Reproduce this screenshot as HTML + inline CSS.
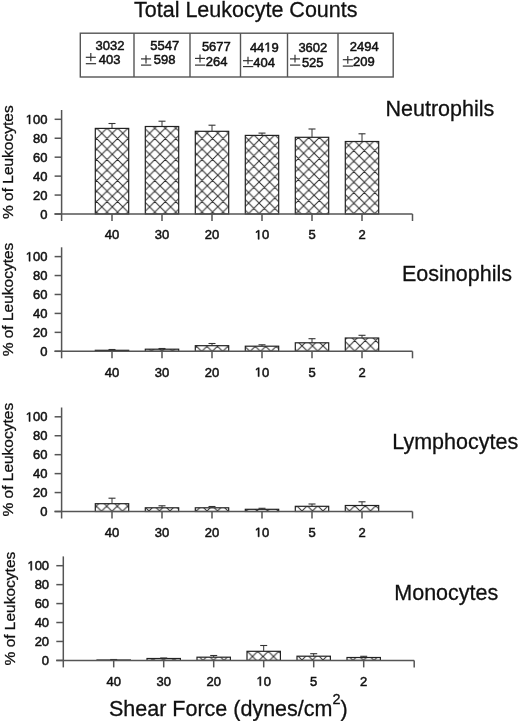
<!DOCTYPE html>
<html><head><meta charset="utf-8"><title>Leukocyte Counts</title>
<style>html,body{margin:0;padding:0;background:#fff;width:520px;height:721px;overflow:hidden;font-family:"Liberation Sans", sans-serif;}</style>
</head><body>
<svg width="520" height="721" viewBox="0 0 520 721" style="position:absolute;left:0;top:0;will-change:transform" font-family='"Liberation Sans", sans-serif' fill="#111">
<defs><pattern id="h0_0" patternUnits="userSpaceOnUse" x="101.80" y="133.30" width="10.5" height="10.5"><rect width="10.5" height="10.5" fill="#fff"/><path d="M0,0 L10.5,10.5 M0,10.5 L10.5,0 M-1,1 L1,-1 M9.5,11.5 L11.5,9.5 M-1,9.5 L1,11.5 M9.5,-1 L11.5,1" stroke="#2a2a2a" stroke-width="1.0" fill="none"/></pattern><pattern id="h0_1" patternUnits="userSpaceOnUse" x="149.60" y="133.30" width="10.5" height="10.5"><rect width="10.5" height="10.5" fill="#fff"/><path d="M0,0 L10.5,10.5 M0,10.5 L10.5,0 M-1,1 L1,-1 M9.5,11.5 L11.5,9.5 M-1,9.5 L1,11.5 M9.5,-1 L11.5,1" stroke="#2a2a2a" stroke-width="1.0" fill="none"/></pattern><pattern id="h0_2" patternUnits="userSpaceOnUse" x="196.80" y="133.20" width="10.5" height="10.5"><rect width="10.5" height="10.5" fill="#fff"/><path d="M0,0 L10.5,10.5 M0,10.5 L10.5,0 M-1,1 L1,-1 M9.5,11.5 L11.5,9.5 M-1,9.5 L1,11.5 M9.5,-1 L11.5,1" stroke="#2a2a2a" stroke-width="1.0" fill="none"/></pattern><pattern id="h0_3" patternUnits="userSpaceOnUse" x="248.60" y="140.05" width="10.5" height="10.5"><rect width="10.5" height="10.5" fill="#fff"/><path d="M0,0 L10.5,10.5 M0,10.5 L10.5,0 M-1,1 L1,-1 M9.5,11.5 L11.5,9.5 M-1,9.5 L1,11.5 M9.5,-1 L11.5,1" stroke="#2a2a2a" stroke-width="1.0" fill="none"/></pattern><pattern id="h0_4" patternUnits="userSpaceOnUse" x="303.60" y="142.76" width="10.5" height="10.5"><rect width="10.5" height="10.5" fill="#fff"/><path d="M0,0 L10.5,10.5 M0,10.5 L10.5,0 M-1,1 L1,-1 M9.5,11.5 L11.5,9.5 M-1,9.5 L1,11.5 M9.5,-1 L11.5,1" stroke="#2a2a2a" stroke-width="1.0" fill="none"/></pattern><pattern id="h0_5" patternUnits="userSpaceOnUse" x="348.60" y="145.34" width="10.5" height="10.5"><rect width="10.5" height="10.5" fill="#fff"/><path d="M0,0 L10.5,10.5 M0,10.5 L10.5,0 M-1,1 L1,-1 M9.5,11.5 L11.5,9.5 M-1,9.5 L1,11.5 M9.5,-1 L11.5,1" stroke="#2a2a2a" stroke-width="1.0" fill="none"/></pattern><pattern id="h1_0" patternUnits="userSpaceOnUse" x="112.00" y="351.30" width="10.5" height="10.5"><rect width="10.5" height="10.5" fill="#fff"/><path d="M0,0 L10.5,10.5 M0,10.5 L10.5,0 M-1,1 L1,-1 M9.5,11.5 L11.5,9.5 M-1,9.5 L1,11.5 M9.5,-1 L11.5,1" stroke="#2a2a2a" stroke-width="1.0" fill="none"/></pattern><pattern id="h1_1" patternUnits="userSpaceOnUse" x="162.00" y="351.30" width="10.5" height="10.5"><rect width="10.5" height="10.5" fill="#fff"/><path d="M0,0 L10.5,10.5 M0,10.5 L10.5,0 M-1,1 L1,-1 M9.5,11.5 L11.5,9.5 M-1,9.5 L1,11.5 M9.5,-1 L11.5,1" stroke="#2a2a2a" stroke-width="1.0" fill="none"/></pattern><pattern id="h1_2" patternUnits="userSpaceOnUse" x="212.20" y="351.50" width="10.5" height="10.5"><rect width="10.5" height="10.5" fill="#fff"/><path d="M0,0 L10.5,10.5 M0,10.5 L10.5,0 M-1,1 L1,-1 M9.5,11.5 L11.5,9.5 M-1,9.5 L1,11.5 M9.5,-1 L11.5,1" stroke="#2a2a2a" stroke-width="1.0" fill="none"/></pattern><pattern id="h1_3" patternUnits="userSpaceOnUse" x="260.50" y="351.50" width="10.5" height="10.5"><rect width="10.5" height="10.5" fill="#fff"/><path d="M0,0 L10.5,10.5 M0,10.5 L10.5,0 M-1,1 L1,-1 M9.5,11.5 L11.5,9.5 M-1,9.5 L1,11.5 M9.5,-1 L11.5,1" stroke="#2a2a2a" stroke-width="1.0" fill="none"/></pattern><pattern id="h1_4" patternUnits="userSpaceOnUse" x="312.50" y="345.80" width="10.5" height="10.5"><rect width="10.5" height="10.5" fill="#fff"/><path d="M0,0 L10.5,10.5 M0,10.5 L10.5,0 M-1,1 L1,-1 M9.5,11.5 L11.5,9.5 M-1,9.5 L1,11.5 M9.5,-1 L11.5,1" stroke="#2a2a2a" stroke-width="1.0" fill="none"/></pattern><pattern id="h1_5" patternUnits="userSpaceOnUse" x="360.00" y="345.80" width="10.5" height="10.5"><rect width="10.5" height="10.5" fill="#fff"/><path d="M0,0 L10.5,10.5 M0,10.5 L10.5,0 M-1,1 L1,-1 M9.5,11.5 L11.5,9.5 M-1,9.5 L1,11.5 M9.5,-1 L11.5,1" stroke="#2a2a2a" stroke-width="1.0" fill="none"/></pattern><pattern id="h2_0" patternUnits="userSpaceOnUse" x="112.00" y="511.30" width="10.5" height="10.5"><rect width="10.5" height="10.5" fill="#fff"/><path d="M0,0 L10.5,10.5 M0,10.5 L10.5,0 M-1,1 L1,-1 M9.5,11.5 L11.5,9.5 M-1,9.5 L1,11.5 M9.5,-1 L11.5,1" stroke="#2a2a2a" stroke-width="1.0" fill="none"/></pattern><pattern id="h2_1" patternUnits="userSpaceOnUse" x="159.50" y="511.00" width="10.5" height="10.5"><rect width="10.5" height="10.5" fill="#fff"/><path d="M0,0 L10.5,10.5 M0,10.5 L10.5,0 M-1,1 L1,-1 M9.5,11.5 L11.5,9.5 M-1,9.5 L1,11.5 M9.5,-1 L11.5,1" stroke="#2a2a2a" stroke-width="1.0" fill="none"/></pattern><pattern id="h2_2" patternUnits="userSpaceOnUse" x="207.00" y="511.00" width="10.5" height="10.5"><rect width="10.5" height="10.5" fill="#fff"/><path d="M0,0 L10.5,10.5 M0,10.5 L10.5,0 M-1,1 L1,-1 M9.5,11.5 L11.5,9.5 M-1,9.5 L1,11.5 M9.5,-1 L11.5,1" stroke="#2a2a2a" stroke-width="1.0" fill="none"/></pattern><pattern id="h2_3" patternUnits="userSpaceOnUse" x="257.00" y="511.00" width="10.5" height="10.5"><rect width="10.5" height="10.5" fill="#fff"/><path d="M0,0 L10.5,10.5 M0,10.5 L10.5,0 M-1,1 L1,-1 M9.5,11.5 L11.5,9.5 M-1,9.5 L1,11.5 M9.5,-1 L11.5,1" stroke="#2a2a2a" stroke-width="1.0" fill="none"/></pattern><pattern id="h2_4" patternUnits="userSpaceOnUse" x="312.50" y="511.00" width="10.5" height="10.5"><rect width="10.5" height="10.5" fill="#fff"/><path d="M0,0 L10.5,10.5 M0,10.5 L10.5,0 M-1,1 L1,-1 M9.5,11.5 L11.5,9.5 M-1,9.5 L1,11.5 M9.5,-1 L11.5,1" stroke="#2a2a2a" stroke-width="1.0" fill="none"/></pattern><pattern id="h2_5" patternUnits="userSpaceOnUse" x="360.00" y="511.00" width="10.5" height="10.5"><rect width="10.5" height="10.5" fill="#fff"/><path d="M0,0 L10.5,10.5 M0,10.5 L10.5,0 M-1,1 L1,-1 M9.5,11.5 L11.5,9.5 M-1,9.5 L1,11.5 M9.5,-1 L11.5,1" stroke="#2a2a2a" stroke-width="1.0" fill="none"/></pattern><pattern id="h3_0" patternUnits="userSpaceOnUse" x="113.50" y="660.40" width="10.5" height="10.5"><rect width="10.5" height="10.5" fill="#fff"/><path d="M0,0 L10.5,10.5 M0,10.5 L10.5,0 M-1,1 L1,-1 M9.5,11.5 L11.5,9.5 M-1,9.5 L1,11.5 M9.5,-1 L11.5,1" stroke="#2a2a2a" stroke-width="1.0" fill="none"/></pattern><pattern id="h3_1" patternUnits="userSpaceOnUse" x="163.50" y="660.40" width="10.5" height="10.5"><rect width="10.5" height="10.5" fill="#fff"/><path d="M0,0 L10.5,10.5 M0,10.5 L10.5,0 M-1,1 L1,-1 M9.5,11.5 L11.5,9.5 M-1,9.5 L1,11.5 M9.5,-1 L11.5,1" stroke="#2a2a2a" stroke-width="1.0" fill="none"/></pattern><pattern id="h3_2" patternUnits="userSpaceOnUse" x="213.50" y="660.40" width="10.5" height="10.5"><rect width="10.5" height="10.5" fill="#fff"/><path d="M0,0 L10.5,10.5 M0,10.5 L10.5,0 M-1,1 L1,-1 M9.5,11.5 L11.5,9.5 M-1,9.5 L1,11.5 M9.5,-1 L11.5,1" stroke="#2a2a2a" stroke-width="1.0" fill="none"/></pattern><pattern id="h3_3" patternUnits="userSpaceOnUse" x="263.00" y="656.50" width="10.5" height="10.5"><rect width="10.5" height="10.5" fill="#fff"/><path d="M0,0 L10.5,10.5 M0,10.5 L10.5,0 M-1,1 L1,-1 M9.5,11.5 L11.5,9.5 M-1,9.5 L1,11.5 M9.5,-1 L11.5,1" stroke="#2a2a2a" stroke-width="1.0" fill="none"/></pattern><pattern id="h3_4" patternUnits="userSpaceOnUse" x="312.50" y="660.00" width="10.5" height="10.5"><rect width="10.5" height="10.5" fill="#fff"/><path d="M0,0 L10.5,10.5 M0,10.5 L10.5,0 M-1,1 L1,-1 M9.5,11.5 L11.5,9.5 M-1,9.5 L1,11.5 M9.5,-1 L11.5,1" stroke="#2a2a2a" stroke-width="1.0" fill="none"/></pattern><pattern id="h3_5" patternUnits="userSpaceOnUse" x="363.50" y="660.40" width="10.5" height="10.5"><rect width="10.5" height="10.5" fill="#fff"/><path d="M0,0 L10.5,10.5 M0,10.5 L10.5,0 M-1,1 L1,-1 M9.5,11.5 L11.5,9.5 M-1,9.5 L1,11.5 M9.5,-1 L11.5,1" stroke="#2a2a2a" stroke-width="1.0" fill="none"/></pattern></defs>
<text x="134.00" y="16.50" font-size="21.5" text-anchor="start" font-weight="normal"  stroke="#111" stroke-width="0.3">Total Leukocyte Counts</text>
<rect x="80.3" y="33.2" width="312.9" height="43.8" fill="none" stroke="#555" stroke-width="1.4"/>
<line x1="134.00" y1="33.20" x2="134.00" y2="77.00" stroke="#555" stroke-width="1.4"/>
<line x1="190.00" y1="33.20" x2="190.00" y2="77.00" stroke="#555" stroke-width="1.4"/>
<line x1="240.50" y1="33.20" x2="240.50" y2="77.00" stroke="#555" stroke-width="1.4"/>
<line x1="287.50" y1="33.20" x2="287.50" y2="77.00" stroke="#555" stroke-width="1.4"/>
<line x1="338.00" y1="33.20" x2="338.00" y2="77.00" stroke="#555" stroke-width="1.4"/>
<text x="95.50" y="49.80" font-size="13" text-anchor="start" font-weight="normal"  stroke="#111" stroke-width="0.5">3032</text>
<line x1="85.80" y1="57.30" x2="95.80" y2="57.30" stroke="#333" stroke-width="1.2"/>
<line x1="90.80" y1="53.00" x2="90.80" y2="61.20" stroke="#333" stroke-width="1.2"/>
<line x1="85.80" y1="63.70" x2="96.10" y2="63.70" stroke="#333" stroke-width="1.2"/>
<text x="98.80" y="64.40" font-size="13" text-anchor="start" font-weight="normal"  stroke="#111" stroke-width="0.5">403</text>
<text x="150.20" y="50.10" font-size="13" text-anchor="start" font-weight="normal"  stroke="#111" stroke-width="0.5">5547</text>
<line x1="141.00" y1="58.90" x2="151.00" y2="58.90" stroke="#333" stroke-width="1.2"/>
<line x1="146.00" y1="55.30" x2="146.00" y2="63.40" stroke="#333" stroke-width="1.2"/>
<line x1="141.00" y1="65.10" x2="151.30" y2="65.10" stroke="#333" stroke-width="1.2"/>
<text x="153.70" y="64.30" font-size="13" text-anchor="start" font-weight="normal"  stroke="#111" stroke-width="0.5">598</text>
<text x="201.90" y="51.00" font-size="13" text-anchor="start" font-weight="normal"  stroke="#111" stroke-width="0.5">5677</text>
<line x1="195.00" y1="58.40" x2="205.00" y2="58.40" stroke="#333" stroke-width="1.2"/>
<line x1="200.00" y1="54.50" x2="200.00" y2="62.60" stroke="#333" stroke-width="1.2"/>
<line x1="195.00" y1="65.10" x2="205.30" y2="65.10" stroke="#333" stroke-width="1.2"/>
<text x="205.70" y="65.60" font-size="13" text-anchor="start" font-weight="normal"  stroke="#111" stroke-width="0.5">264</text>
<text x="249.90" y="51.60" font-size="13" font-weight="normal"  stroke="#111" stroke-width="0.5">44 9</text>
<path d="M515,0 L515,1237 L197,1010 L197,1180 L530,1409 L696,1409 L696,0 Z" transform="translate(264.36,51.60) scale(0.00635,-0.00635)"  stroke="#111" stroke-width="78.77"/>
<line x1="243.00" y1="60.70" x2="253.00" y2="60.70" stroke="#333" stroke-width="1.2"/>
<line x1="248.00" y1="56.80" x2="248.00" y2="64.20" stroke="#333" stroke-width="1.2"/>
<line x1="243.00" y1="66.60" x2="253.30" y2="66.60" stroke="#333" stroke-width="1.2"/>
<text x="253.30" y="66.60" font-size="13" text-anchor="start" font-weight="normal"  stroke="#111" stroke-width="0.5">404</text>
<text x="298.40" y="52.40" font-size="13" text-anchor="start" font-weight="normal"  stroke="#111" stroke-width="0.5">3602</text>
<line x1="290.00" y1="58.90" x2="300.00" y2="58.90" stroke="#333" stroke-width="1.2"/>
<line x1="295.00" y1="54.80" x2="295.00" y2="62.60" stroke="#333" stroke-width="1.2"/>
<line x1="290.00" y1="65.10" x2="300.30" y2="65.10" stroke="#333" stroke-width="1.2"/>
<text x="301.90" y="66.60" font-size="13" text-anchor="start" font-weight="normal"  stroke="#111" stroke-width="0.5">525</text>
<text x="349.70" y="51.30" font-size="13" text-anchor="start" font-weight="normal"  stroke="#111" stroke-width="0.5">2494</text>
<line x1="342.80" y1="59.70" x2="352.80" y2="59.70" stroke="#333" stroke-width="1.2"/>
<line x1="347.80" y1="56.00" x2="347.80" y2="63.80" stroke="#333" stroke-width="1.2"/>
<line x1="342.80" y1="66.10" x2="353.10" y2="66.10" stroke="#333" stroke-width="1.2"/>
<text x="353.10" y="65.50" font-size="13" text-anchor="start" font-weight="normal"  stroke="#111" stroke-width="0.5">209</text>
<rect x="95.30" y="128.40" width="33.40" height="85.60" fill="url(#h0_0)"/>
<rect x="95.30" y="128.40" width="33.40" height="85.60" fill="none" stroke="#222" stroke-width="1.2"/>
<line x1="112.00" y1="123.50" x2="112.00" y2="128.40" stroke="#333" stroke-width="1.0"/>
<line x1="108.50" y1="123.50" x2="115.50" y2="123.50" stroke="#333" stroke-width="1.1"/>
<rect x="145.30" y="126.50" width="33.40" height="87.50" fill="url(#h0_1)"/>
<rect x="145.30" y="126.50" width="33.40" height="87.50" fill="none" stroke="#222" stroke-width="1.2"/>
<line x1="162.00" y1="121.20" x2="162.00" y2="126.50" stroke="#333" stroke-width="1.0"/>
<line x1="158.50" y1="121.20" x2="165.50" y2="121.20" stroke="#333" stroke-width="1.1"/>
<rect x="195.30" y="131.30" width="33.40" height="82.70" fill="url(#h0_2)"/>
<rect x="195.30" y="131.30" width="33.40" height="82.70" fill="none" stroke="#222" stroke-width="1.2"/>
<line x1="212.00" y1="125.20" x2="212.00" y2="131.30" stroke="#333" stroke-width="1.0"/>
<line x1="208.50" y1="125.20" x2="215.50" y2="125.20" stroke="#333" stroke-width="1.1"/>
<rect x="245.30" y="135.40" width="33.40" height="78.60" fill="url(#h0_3)"/>
<rect x="245.30" y="135.40" width="33.40" height="78.60" fill="none" stroke="#222" stroke-width="1.2"/>
<line x1="262.00" y1="133.10" x2="262.00" y2="135.40" stroke="#333" stroke-width="1.0"/>
<line x1="258.50" y1="133.10" x2="265.50" y2="133.10" stroke="#333" stroke-width="1.1"/>
<rect x="295.30" y="137.30" width="33.40" height="76.70" fill="url(#h0_4)"/>
<rect x="295.30" y="137.30" width="33.40" height="76.70" fill="none" stroke="#222" stroke-width="1.2"/>
<line x1="312.00" y1="129.00" x2="312.00" y2="137.30" stroke="#333" stroke-width="1.0"/>
<line x1="308.50" y1="129.00" x2="315.50" y2="129.00" stroke="#333" stroke-width="1.1"/>
<rect x="345.30" y="141.50" width="33.40" height="72.50" fill="url(#h0_5)"/>
<rect x="345.30" y="141.50" width="33.40" height="72.50" fill="none" stroke="#222" stroke-width="1.2"/>
<line x1="362.00" y1="133.80" x2="362.00" y2="141.50" stroke="#333" stroke-width="1.0"/>
<line x1="358.50" y1="133.80" x2="365.50" y2="133.80" stroke="#333" stroke-width="1.1"/>
<line x1="61.60" y1="110.00" x2="61.60" y2="221.00" stroke="#555" stroke-width="1.5"/>
<line x1="54.50" y1="214.00" x2="412.50" y2="214.00" stroke="#555" stroke-width="1.5"/>
<line x1="412.50" y1="214.00" x2="412.50" y2="221.00" stroke="#555" stroke-width="1.5"/>
<line x1="112.00" y1="214.00" x2="112.00" y2="221.00" stroke="#555" stroke-width="1.5"/>
<line x1="162.00" y1="214.00" x2="162.00" y2="221.00" stroke="#555" stroke-width="1.5"/>
<line x1="212.00" y1="214.00" x2="212.00" y2="221.00" stroke="#555" stroke-width="1.5"/>
<line x1="262.00" y1="214.00" x2="262.00" y2="221.00" stroke="#555" stroke-width="1.5"/>
<line x1="312.00" y1="214.00" x2="312.00" y2="221.00" stroke="#555" stroke-width="1.5"/>
<line x1="362.00" y1="214.00" x2="362.00" y2="221.00" stroke="#555" stroke-width="1.5"/>
<line x1="54.60" y1="214.00" x2="61.60" y2="214.00" stroke="#555" stroke-width="1.5"/>
<text x="47.40" y="218.60" font-size="13" text-anchor="end" font-weight="normal"  stroke="#111" stroke-width="0.5">0</text>
<line x1="54.60" y1="195.06" x2="61.60" y2="195.06" stroke="#555" stroke-width="1.5"/>
<text x="47.40" y="199.66" font-size="13" text-anchor="end" font-weight="normal"  stroke="#111" stroke-width="0.5">20</text>
<line x1="54.60" y1="176.12" x2="61.60" y2="176.12" stroke="#555" stroke-width="1.5"/>
<text x="47.40" y="180.72" font-size="13" text-anchor="end" font-weight="normal"  stroke="#111" stroke-width="0.5">40</text>
<line x1="54.60" y1="157.18" x2="61.60" y2="157.18" stroke="#555" stroke-width="1.5"/>
<text x="47.40" y="161.78" font-size="13" text-anchor="end" font-weight="normal"  stroke="#111" stroke-width="0.5">60</text>
<line x1="54.60" y1="138.24" x2="61.60" y2="138.24" stroke="#555" stroke-width="1.5"/>
<text x="47.40" y="142.84" font-size="13" text-anchor="end" font-weight="normal"  stroke="#111" stroke-width="0.5">80</text>
<line x1="54.60" y1="119.30" x2="61.60" y2="119.30" stroke="#555" stroke-width="1.5"/>
<text x="25.71" y="123.90" font-size="13" font-weight="normal"  stroke="#111" stroke-width="0.5"> 00</text>
<path d="M515,0 L515,1237 L197,1010 L197,1180 L530,1409 L696,1409 L696,0 Z" transform="translate(25.71,123.90) scale(0.00635,-0.00635)"  stroke="#111" stroke-width="78.77"/>
<text x="112.00" y="239.30" font-size="13" text-anchor="middle" font-weight="normal"  stroke="#111" stroke-width="0.5">40</text>
<text x="162.00" y="239.30" font-size="13" text-anchor="middle" font-weight="normal"  stroke="#111" stroke-width="0.5">30</text>
<text x="212.00" y="239.30" font-size="13" text-anchor="middle" font-weight="normal"  stroke="#111" stroke-width="0.5">20</text>
<text x="254.77" y="239.30" font-size="13" font-weight="normal"  stroke="#111" stroke-width="0.5"> 0</text>
<path d="M515,0 L515,1237 L197,1010 L197,1180 L530,1409 L696,1409 L696,0 Z" transform="translate(254.77,239.30) scale(0.00635,-0.00635)"  stroke="#111" stroke-width="78.77"/>
<text x="312.00" y="239.30" font-size="13" text-anchor="middle" font-weight="normal"  stroke="#111" stroke-width="0.5">5</text>
<text x="362.00" y="239.30" font-size="13" text-anchor="middle" font-weight="normal"  stroke="#111" stroke-width="0.5">2</text>
<text x="0" y="0" font-size="15.5" text-anchor="middle" stroke="#111" stroke-width="0.3" transform="translate(13.00,162.20) rotate(-90)">% of Leukocytes</text>
<text x="385.50" y="116.00" font-size="21.5" text-anchor="start" font-weight="normal"  stroke="#111" stroke-width="0.3">Neutrophils</text>
<rect x="95.30" y="350.30" width="33.40" height="1.00" fill="url(#h1_0)"/>
<rect x="95.30" y="350.30" width="33.40" height="1.00" fill="none" stroke="#222" stroke-width="1.2"/>
<line x1="112.00" y1="349.50" x2="112.00" y2="350.30" stroke="#333" stroke-width="1.0"/>
<line x1="108.50" y1="349.50" x2="115.50" y2="349.50" stroke="#333" stroke-width="1.1"/>
<rect x="145.30" y="349.20" width="33.40" height="2.10" fill="url(#h1_1)"/>
<rect x="145.30" y="349.20" width="33.40" height="2.10" fill="none" stroke="#222" stroke-width="1.2"/>
<line x1="162.00" y1="348.50" x2="162.00" y2="349.20" stroke="#333" stroke-width="1.0"/>
<line x1="158.50" y1="348.50" x2="165.50" y2="348.50" stroke="#333" stroke-width="1.1"/>
<rect x="195.30" y="345.70" width="33.40" height="5.60" fill="url(#h1_2)"/>
<rect x="195.30" y="345.70" width="33.40" height="5.60" fill="none" stroke="#222" stroke-width="1.2"/>
<line x1="212.00" y1="343.50" x2="212.00" y2="345.70" stroke="#333" stroke-width="1.0"/>
<line x1="208.50" y1="343.50" x2="215.50" y2="343.50" stroke="#333" stroke-width="1.1"/>
<rect x="245.30" y="346.20" width="33.40" height="5.10" fill="url(#h1_3)"/>
<rect x="245.30" y="346.20" width="33.40" height="5.10" fill="none" stroke="#222" stroke-width="1.2"/>
<line x1="262.00" y1="344.80" x2="262.00" y2="346.20" stroke="#333" stroke-width="1.0"/>
<line x1="258.50" y1="344.80" x2="265.50" y2="344.80" stroke="#333" stroke-width="1.1"/>
<rect x="295.30" y="342.80" width="33.40" height="8.50" fill="url(#h1_4)"/>
<rect x="295.30" y="342.80" width="33.40" height="8.50" fill="none" stroke="#222" stroke-width="1.2"/>
<line x1="312.00" y1="338.70" x2="312.00" y2="342.80" stroke="#333" stroke-width="1.0"/>
<line x1="308.50" y1="338.70" x2="315.50" y2="338.70" stroke="#333" stroke-width="1.1"/>
<rect x="345.30" y="338.00" width="33.40" height="13.30" fill="url(#h1_5)"/>
<rect x="345.30" y="338.00" width="33.40" height="13.30" fill="none" stroke="#222" stroke-width="1.2"/>
<line x1="362.00" y1="335.30" x2="362.00" y2="338.00" stroke="#333" stroke-width="1.0"/>
<line x1="358.50" y1="335.30" x2="365.50" y2="335.30" stroke="#333" stroke-width="1.1"/>
<line x1="61.60" y1="247.30" x2="61.60" y2="358.30" stroke="#555" stroke-width="1.5"/>
<line x1="54.50" y1="351.30" x2="412.50" y2="351.30" stroke="#555" stroke-width="1.5"/>
<line x1="412.50" y1="351.30" x2="412.50" y2="358.30" stroke="#555" stroke-width="1.5"/>
<line x1="112.00" y1="351.30" x2="112.00" y2="358.30" stroke="#555" stroke-width="1.5"/>
<line x1="162.00" y1="351.30" x2="162.00" y2="358.30" stroke="#555" stroke-width="1.5"/>
<line x1="212.00" y1="351.30" x2="212.00" y2="358.30" stroke="#555" stroke-width="1.5"/>
<line x1="262.00" y1="351.30" x2="262.00" y2="358.30" stroke="#555" stroke-width="1.5"/>
<line x1="312.00" y1="351.30" x2="312.00" y2="358.30" stroke="#555" stroke-width="1.5"/>
<line x1="362.00" y1="351.30" x2="362.00" y2="358.30" stroke="#555" stroke-width="1.5"/>
<line x1="54.60" y1="351.30" x2="61.60" y2="351.30" stroke="#555" stroke-width="1.5"/>
<text x="47.40" y="355.90" font-size="13" text-anchor="end" font-weight="normal"  stroke="#111" stroke-width="0.5">0</text>
<line x1="54.60" y1="332.36" x2="61.60" y2="332.36" stroke="#555" stroke-width="1.5"/>
<text x="47.40" y="336.96" font-size="13" text-anchor="end" font-weight="normal"  stroke="#111" stroke-width="0.5">20</text>
<line x1="54.60" y1="313.42" x2="61.60" y2="313.42" stroke="#555" stroke-width="1.5"/>
<text x="47.40" y="318.02" font-size="13" text-anchor="end" font-weight="normal"  stroke="#111" stroke-width="0.5">40</text>
<line x1="54.60" y1="294.48" x2="61.60" y2="294.48" stroke="#555" stroke-width="1.5"/>
<text x="47.40" y="299.08" font-size="13" text-anchor="end" font-weight="normal"  stroke="#111" stroke-width="0.5">60</text>
<line x1="54.60" y1="275.54" x2="61.60" y2="275.54" stroke="#555" stroke-width="1.5"/>
<text x="47.40" y="280.14" font-size="13" text-anchor="end" font-weight="normal"  stroke="#111" stroke-width="0.5">80</text>
<line x1="54.60" y1="256.60" x2="61.60" y2="256.60" stroke="#555" stroke-width="1.5"/>
<text x="25.71" y="261.20" font-size="13" font-weight="normal"  stroke="#111" stroke-width="0.5"> 00</text>
<path d="M515,0 L515,1237 L197,1010 L197,1180 L530,1409 L696,1409 L696,0 Z" transform="translate(25.71,261.20) scale(0.00635,-0.00635)"  stroke="#111" stroke-width="78.77"/>
<text x="112.00" y="376.60" font-size="13" text-anchor="middle" font-weight="normal"  stroke="#111" stroke-width="0.5">40</text>
<text x="162.00" y="376.60" font-size="13" text-anchor="middle" font-weight="normal"  stroke="#111" stroke-width="0.5">30</text>
<text x="212.00" y="376.60" font-size="13" text-anchor="middle" font-weight="normal"  stroke="#111" stroke-width="0.5">20</text>
<text x="254.77" y="376.60" font-size="13" font-weight="normal"  stroke="#111" stroke-width="0.5"> 0</text>
<path d="M515,0 L515,1237 L197,1010 L197,1180 L530,1409 L696,1409 L696,0 Z" transform="translate(254.77,376.60) scale(0.00635,-0.00635)"  stroke="#111" stroke-width="78.77"/>
<text x="312.00" y="376.60" font-size="13" text-anchor="middle" font-weight="normal"  stroke="#111" stroke-width="0.5">5</text>
<text x="362.00" y="376.60" font-size="13" text-anchor="middle" font-weight="normal"  stroke="#111" stroke-width="0.5">2</text>
<text x="0" y="0" font-size="15.5" text-anchor="middle" stroke="#111" stroke-width="0.3" transform="translate(13.00,299.50) rotate(-90)">% of Leukocytes</text>
<text x="402.00" y="281.30" font-size="21.5" text-anchor="start" font-weight="normal"  stroke="#111" stroke-width="0.3">Eosinophils</text>
<rect x="95.30" y="503.70" width="33.40" height="7.80" fill="url(#h2_0)"/>
<rect x="95.30" y="503.70" width="33.40" height="7.80" fill="none" stroke="#222" stroke-width="1.2"/>
<line x1="112.00" y1="498.20" x2="112.00" y2="503.70" stroke="#333" stroke-width="1.0"/>
<line x1="108.50" y1="498.20" x2="115.50" y2="498.20" stroke="#333" stroke-width="1.1"/>
<rect x="145.30" y="507.80" width="33.40" height="3.70" fill="url(#h2_1)"/>
<rect x="145.30" y="507.80" width="33.40" height="3.70" fill="none" stroke="#222" stroke-width="1.2"/>
<line x1="162.00" y1="505.80" x2="162.00" y2="507.80" stroke="#333" stroke-width="1.0"/>
<line x1="158.50" y1="505.80" x2="165.50" y2="505.80" stroke="#333" stroke-width="1.1"/>
<rect x="195.30" y="507.80" width="33.40" height="3.70" fill="url(#h2_2)"/>
<rect x="195.30" y="507.80" width="33.40" height="3.70" fill="none" stroke="#222" stroke-width="1.2"/>
<line x1="212.00" y1="506.50" x2="212.00" y2="507.80" stroke="#333" stroke-width="1.0"/>
<line x1="208.50" y1="506.50" x2="215.50" y2="506.50" stroke="#333" stroke-width="1.1"/>
<rect x="245.30" y="509.30" width="33.40" height="2.20" fill="url(#h2_3)"/>
<rect x="245.30" y="509.30" width="33.40" height="2.20" fill="none" stroke="#222" stroke-width="1.2"/>
<line x1="262.00" y1="508.30" x2="262.00" y2="509.30" stroke="#333" stroke-width="1.0"/>
<line x1="258.50" y1="508.30" x2="265.50" y2="508.30" stroke="#333" stroke-width="1.1"/>
<rect x="295.30" y="506.30" width="33.40" height="5.20" fill="url(#h2_4)"/>
<rect x="295.30" y="506.30" width="33.40" height="5.20" fill="none" stroke="#222" stroke-width="1.2"/>
<line x1="312.00" y1="504.00" x2="312.00" y2="506.30" stroke="#333" stroke-width="1.0"/>
<line x1="308.50" y1="504.00" x2="315.50" y2="504.00" stroke="#333" stroke-width="1.1"/>
<rect x="345.30" y="505.50" width="33.40" height="6.00" fill="url(#h2_5)"/>
<rect x="345.30" y="505.50" width="33.40" height="6.00" fill="none" stroke="#222" stroke-width="1.2"/>
<line x1="362.00" y1="501.80" x2="362.00" y2="505.50" stroke="#333" stroke-width="1.0"/>
<line x1="358.50" y1="501.80" x2="365.50" y2="501.80" stroke="#333" stroke-width="1.1"/>
<line x1="61.60" y1="407.50" x2="61.60" y2="518.50" stroke="#555" stroke-width="1.5"/>
<line x1="54.50" y1="511.50" x2="412.50" y2="511.50" stroke="#555" stroke-width="1.5"/>
<line x1="412.50" y1="511.50" x2="412.50" y2="518.50" stroke="#555" stroke-width="1.5"/>
<line x1="112.00" y1="511.50" x2="112.00" y2="518.50" stroke="#555" stroke-width="1.5"/>
<line x1="162.00" y1="511.50" x2="162.00" y2="518.50" stroke="#555" stroke-width="1.5"/>
<line x1="212.00" y1="511.50" x2="212.00" y2="518.50" stroke="#555" stroke-width="1.5"/>
<line x1="262.00" y1="511.50" x2="262.00" y2="518.50" stroke="#555" stroke-width="1.5"/>
<line x1="312.00" y1="511.50" x2="312.00" y2="518.50" stroke="#555" stroke-width="1.5"/>
<line x1="362.00" y1="511.50" x2="362.00" y2="518.50" stroke="#555" stroke-width="1.5"/>
<line x1="54.60" y1="511.50" x2="61.60" y2="511.50" stroke="#555" stroke-width="1.5"/>
<text x="47.40" y="516.10" font-size="13" text-anchor="end" font-weight="normal"  stroke="#111" stroke-width="0.5">0</text>
<line x1="54.60" y1="492.56" x2="61.60" y2="492.56" stroke="#555" stroke-width="1.5"/>
<text x="47.40" y="497.16" font-size="13" text-anchor="end" font-weight="normal"  stroke="#111" stroke-width="0.5">20</text>
<line x1="54.60" y1="473.62" x2="61.60" y2="473.62" stroke="#555" stroke-width="1.5"/>
<text x="47.40" y="478.22" font-size="13" text-anchor="end" font-weight="normal"  stroke="#111" stroke-width="0.5">40</text>
<line x1="54.60" y1="454.68" x2="61.60" y2="454.68" stroke="#555" stroke-width="1.5"/>
<text x="47.40" y="459.28" font-size="13" text-anchor="end" font-weight="normal"  stroke="#111" stroke-width="0.5">60</text>
<line x1="54.60" y1="435.74" x2="61.60" y2="435.74" stroke="#555" stroke-width="1.5"/>
<text x="47.40" y="440.34" font-size="13" text-anchor="end" font-weight="normal"  stroke="#111" stroke-width="0.5">80</text>
<line x1="54.60" y1="416.80" x2="61.60" y2="416.80" stroke="#555" stroke-width="1.5"/>
<text x="25.71" y="421.40" font-size="13" font-weight="normal"  stroke="#111" stroke-width="0.5"> 00</text>
<path d="M515,0 L515,1237 L197,1010 L197,1180 L530,1409 L696,1409 L696,0 Z" transform="translate(25.71,421.40) scale(0.00635,-0.00635)"  stroke="#111" stroke-width="78.77"/>
<text x="112.00" y="536.80" font-size="13" text-anchor="middle" font-weight="normal"  stroke="#111" stroke-width="0.5">40</text>
<text x="162.00" y="536.80" font-size="13" text-anchor="middle" font-weight="normal"  stroke="#111" stroke-width="0.5">30</text>
<text x="212.00" y="536.80" font-size="13" text-anchor="middle" font-weight="normal"  stroke="#111" stroke-width="0.5">20</text>
<text x="254.77" y="536.80" font-size="13" font-weight="normal"  stroke="#111" stroke-width="0.5"> 0</text>
<path d="M515,0 L515,1237 L197,1010 L197,1180 L530,1409 L696,1409 L696,0 Z" transform="translate(254.77,536.80) scale(0.00635,-0.00635)"  stroke="#111" stroke-width="78.77"/>
<text x="312.00" y="536.80" font-size="13" text-anchor="middle" font-weight="normal"  stroke="#111" stroke-width="0.5">5</text>
<text x="362.00" y="536.80" font-size="13" text-anchor="middle" font-weight="normal"  stroke="#111" stroke-width="0.5">2</text>
<text x="0" y="0" font-size="15.5" text-anchor="middle" stroke="#111" stroke-width="0.3" transform="translate(13.00,459.70) rotate(-90)">% of Leukocytes</text>
<text x="392.30" y="448.80" font-size="21.5" text-anchor="start" font-weight="normal"  stroke="#111" stroke-width="0.3">Lymphocytes</text>
<rect x="97.00" y="660.00" width="33.40" height="0.40" fill="url(#h3_0)"/>
<rect x="97.00" y="660.00" width="33.40" height="0.40" fill="none" stroke="#222" stroke-width="1.2"/>
<line x1="113.70" y1="659.50" x2="113.70" y2="660.00" stroke="#333" stroke-width="1.0"/>
<line x1="110.20" y1="659.50" x2="117.20" y2="659.50" stroke="#333" stroke-width="1.1"/>
<rect x="147.00" y="658.50" width="33.40" height="1.90" fill="url(#h3_1)"/>
<rect x="147.00" y="658.50" width="33.40" height="1.90" fill="none" stroke="#222" stroke-width="1.2"/>
<line x1="163.70" y1="658.00" x2="163.70" y2="658.50" stroke="#333" stroke-width="1.0"/>
<line x1="160.20" y1="658.00" x2="167.20" y2="658.00" stroke="#333" stroke-width="1.1"/>
<rect x="197.00" y="657.20" width="33.40" height="3.20" fill="url(#h3_2)"/>
<rect x="197.00" y="657.20" width="33.40" height="3.20" fill="none" stroke="#222" stroke-width="1.2"/>
<line x1="213.70" y1="655.50" x2="213.70" y2="657.20" stroke="#333" stroke-width="1.0"/>
<line x1="210.20" y1="655.50" x2="217.20" y2="655.50" stroke="#333" stroke-width="1.1"/>
<rect x="247.00" y="651.30" width="33.40" height="9.10" fill="url(#h3_3)"/>
<rect x="247.00" y="651.30" width="33.40" height="9.10" fill="none" stroke="#222" stroke-width="1.2"/>
<line x1="263.70" y1="645.50" x2="263.70" y2="651.30" stroke="#333" stroke-width="1.0"/>
<line x1="260.20" y1="645.50" x2="267.20" y2="645.50" stroke="#333" stroke-width="1.1"/>
<rect x="297.00" y="656.20" width="33.40" height="4.20" fill="url(#h3_4)"/>
<rect x="297.00" y="656.20" width="33.40" height="4.20" fill="none" stroke="#222" stroke-width="1.2"/>
<line x1="313.70" y1="653.70" x2="313.70" y2="656.20" stroke="#333" stroke-width="1.0"/>
<line x1="310.20" y1="653.70" x2="317.20" y2="653.70" stroke="#333" stroke-width="1.1"/>
<rect x="347.00" y="657.50" width="33.40" height="2.90" fill="url(#h3_5)"/>
<rect x="347.00" y="657.50" width="33.40" height="2.90" fill="none" stroke="#222" stroke-width="1.2"/>
<line x1="363.70" y1="656.30" x2="363.70" y2="657.50" stroke="#333" stroke-width="1.0"/>
<line x1="360.20" y1="656.30" x2="367.20" y2="656.30" stroke="#333" stroke-width="1.1"/>
<line x1="63.30" y1="556.40" x2="63.30" y2="667.40" stroke="#555" stroke-width="1.5"/>
<line x1="56.20" y1="660.40" x2="414.20" y2="660.40" stroke="#555" stroke-width="1.5"/>
<line x1="414.20" y1="660.40" x2="414.20" y2="667.40" stroke="#555" stroke-width="1.5"/>
<line x1="113.70" y1="660.40" x2="113.70" y2="667.40" stroke="#555" stroke-width="1.5"/>
<line x1="163.70" y1="660.40" x2="163.70" y2="667.40" stroke="#555" stroke-width="1.5"/>
<line x1="213.70" y1="660.40" x2="213.70" y2="667.40" stroke="#555" stroke-width="1.5"/>
<line x1="263.70" y1="660.40" x2="263.70" y2="667.40" stroke="#555" stroke-width="1.5"/>
<line x1="313.70" y1="660.40" x2="313.70" y2="667.40" stroke="#555" stroke-width="1.5"/>
<line x1="363.70" y1="660.40" x2="363.70" y2="667.40" stroke="#555" stroke-width="1.5"/>
<line x1="56.30" y1="660.40" x2="63.30" y2="660.40" stroke="#555" stroke-width="1.5"/>
<text x="49.10" y="665.00" font-size="13" text-anchor="end" font-weight="normal"  stroke="#111" stroke-width="0.5">0</text>
<line x1="56.30" y1="641.46" x2="63.30" y2="641.46" stroke="#555" stroke-width="1.5"/>
<text x="49.10" y="646.06" font-size="13" text-anchor="end" font-weight="normal"  stroke="#111" stroke-width="0.5">20</text>
<line x1="56.30" y1="622.52" x2="63.30" y2="622.52" stroke="#555" stroke-width="1.5"/>
<text x="49.10" y="627.12" font-size="13" text-anchor="end" font-weight="normal"  stroke="#111" stroke-width="0.5">40</text>
<line x1="56.30" y1="603.58" x2="63.30" y2="603.58" stroke="#555" stroke-width="1.5"/>
<text x="49.10" y="608.18" font-size="13" text-anchor="end" font-weight="normal"  stroke="#111" stroke-width="0.5">60</text>
<line x1="56.30" y1="584.64" x2="63.30" y2="584.64" stroke="#555" stroke-width="1.5"/>
<text x="49.10" y="589.24" font-size="13" text-anchor="end" font-weight="normal"  stroke="#111" stroke-width="0.5">80</text>
<line x1="56.30" y1="565.70" x2="63.30" y2="565.70" stroke="#555" stroke-width="1.5"/>
<text x="27.41" y="570.30" font-size="13" font-weight="normal"  stroke="#111" stroke-width="0.5"> 00</text>
<path d="M515,0 L515,1237 L197,1010 L197,1180 L530,1409 L696,1409 L696,0 Z" transform="translate(27.41,570.30) scale(0.00635,-0.00635)"  stroke="#111" stroke-width="78.77"/>
<text x="113.70" y="685.70" font-size="13" text-anchor="middle" font-weight="normal"  stroke="#111" stroke-width="0.5">40</text>
<text x="163.70" y="685.70" font-size="13" text-anchor="middle" font-weight="normal"  stroke="#111" stroke-width="0.5">30</text>
<text x="213.70" y="685.70" font-size="13" text-anchor="middle" font-weight="normal"  stroke="#111" stroke-width="0.5">20</text>
<text x="256.47" y="685.70" font-size="13" font-weight="normal"  stroke="#111" stroke-width="0.5"> 0</text>
<path d="M515,0 L515,1237 L197,1010 L197,1180 L530,1409 L696,1409 L696,0 Z" transform="translate(256.47,685.70) scale(0.00635,-0.00635)"  stroke="#111" stroke-width="78.77"/>
<text x="313.70" y="685.70" font-size="13" text-anchor="middle" font-weight="normal"  stroke="#111" stroke-width="0.5">5</text>
<text x="363.70" y="685.70" font-size="13" text-anchor="middle" font-weight="normal"  stroke="#111" stroke-width="0.5">2</text>
<text x="0" y="0" font-size="15.5" text-anchor="middle" stroke="#111" stroke-width="0.3" transform="translate(14.70,608.60) rotate(-90)">% of Leukocytes</text>
<text x="394.30" y="600.00" font-size="21.5" text-anchor="start" font-weight="normal"  stroke="#111" stroke-width="0.3">Monocytes</text>
<text x="109" y="715.5" font-size="21.5" stroke="#111" stroke-width="0.3">Shear Force (dynes/cm<tspan font-size="14.5" dy="-11.5">2</tspan><tspan dy="11.5">)</tspan></text>
</svg>
</body></html>
